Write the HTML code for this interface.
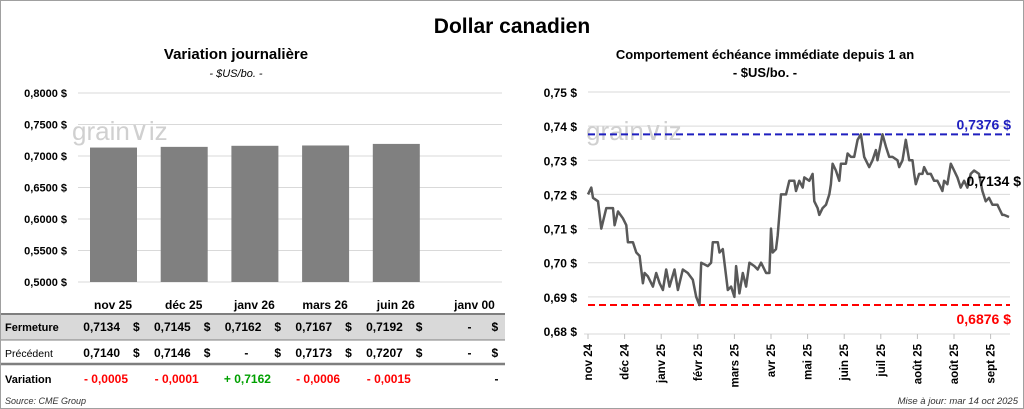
<!DOCTYPE html>
<html><head><meta charset="utf-8"><style>
body{margin:0;background:#fff}
svg{display:block;font-family:"Liberation Sans",sans-serif}
</style></head><body>
<svg id="s" width="1024" height="409" viewBox="0 0 1024 409" xmlns="http://www.w3.org/2000/svg">
<rect x="0.5" y="0.5" width="1023" height="408" fill="#fff" stroke="#a0a0a0"/>
<text x="512" y="33" text-anchor="middle" font-size="21" font-weight="bold">Dollar canadien</text>
<text x="236" y="59" text-anchor="middle" font-size="15" font-weight="bold">Variation  journalière</text>
<text x="236" y="77" text-anchor="middle" font-size="11" font-style="italic">- $US/bo. -</text>
<text x="765" y="59" text-anchor="middle" font-size="13" font-weight="bold">Comportement échéance immédiate depuis 1 an</text>
<text x="765" y="77" text-anchor="middle" font-size="13" font-weight="bold">- $US/bo. -</text>
<g id="left"></g>
<g id="right"></g>
<g id="tbl"></g>
<text x="5" y="404" font-size="9" font-style="italic" fill="#333">Source: CME Group</text>
<text x="1018" y="404" text-anchor="end" font-size="9.5" font-style="italic" fill="#333">Mise à jour: mar 14 oct 2025</text>
</svg>
<script>
const barCats=["nov 25","déc 25","janv 26","mars 26","juin 26","janv 00"];
const barVals=[0.7134,0.7145,0.7162,0.7167,0.7192,null];
const barTicks=[0.50,0.55,0.60,0.65,0.70,0.75,0.80];
const prevVals=["0,7140","0,7146","-","0,7173","0,7207","-"];
const closeVals=["0,7134","0,7145","0,7162","0,7167","0,7192","-"];
const varVals=["- 0,0005","- 0,0001","+ 0,7162","- 0,0006","- 0,0015","-"];
const lineTicks=[0.68,0.69,0.70,0.71,0.72,0.73,0.74,0.75];
const monthLabels=["nov 24","déc 24","janv 25","févr 25","mars 25","avr 25","mai 25","juin 25","juil 25","août 25","août 25","sept 25"];
const lineDays=[0,2,3,6,8,11,15,16,18,21,23,24,27,29,31,33,34,36,39,41,43,45,47,49,52,54,57,60,63,65,67,68,72,74,75,78,79,81,84,86,88,89,91,93,95,97,100,102,104,107,109,110,111,113,114,116,119,121,124,125,127,129,130,133,135,136,138,139,141,143,145,146,147,149,151,152,155,156,158,160,162,164,166,169,171,173,174,176,177,179,181,183,186,187,189,191,193,195,196,197,199,201,202,204,206,208,210,212,213,214,216,218,220,222,224,226,228,230,232,235,237,239,241,243,246,247,249,250,253];
const lineVals=[0.720,0.722,0.719,0.718,0.710,0.716,0.716,0.711,0.715,0.713,0.711,0.706,0.706,0.703,0.702,0.694,0.697,0.696,0.693,0.697,0.694,0.692,0.698,0.693,0.698,0.692,0.698,0.697,0.695,0.690,0.6876,0.700,0.699,0.700,0.706,0.706,0.703,0.704,0.692,0.693,0.690,0.699,0.691,0.697,0.693,0.700,0.699,0.698,0.700,0.697,0.697,0.710,0.703,0.704,0.708,0.720,0.720,0.724,0.724,0.721,0.724,0.722,0.725,0.724,0.726,0.718,0.716,0.714,0.716,0.717,0.720,0.723,0.729,0.727,0.724,0.729,0.729,0.732,0.731,0.731,0.736,0.7376,0.731,0.728,0.730,0.733,0.730,0.735,0.7376,0.734,0.731,0.731,0.730,0.728,0.730,0.736,0.730,0.730,0.726,0.723,0.726,0.726,0.728,0.726,0.726,0.724,0.724,0.722,0.721,0.724,0.723,0.729,0.727,0.725,0.722,0.724,0.722,0.726,0.727,0.726,0.721,0.718,0.719,0.717,0.717,0.716,0.714,0.714,0.7134];
const maxVal=0.7376, minVal=0.6876, lastVal=0.7134;
const NS="http://www.w3.org/2000/svg";
function mk(p,t,a,txt){const e=document.createElementNS(NS,t);for(const k in a)e.setAttribute(k,a[k]);if(txt!=null)e.textContent=txt;p.appendChild(e);return e;}
// left chart
const L=document.getElementById('left');
const ly=v=>282-(v-0.5)/0.3*189;
const lx=i=>78+i*70.7;
barTicks.forEach(t=>{
 const g=mk(L,'line',{x1:78,x2:502,y1:ly(t),y2:ly(t),stroke:'#d9d9d9'});
 
 const tx=mk(L,'text',{x:67,y:ly(t)+4,'text-anchor':'end','font-size':11,'font-weight':'bold'},t.toFixed(4).replace('.',',')+' $');
 
});
const wm=mk(L,'text',{x:72,y:140,'font-size':26,fill:'#d0d0d0'},'grain\u2228iz');

barVals.forEach((v,i)=>{
 if(v==null)return;
 const r=mk(L,'rect',{x:lx(i)+12,y:ly(v),width:47,height:282-ly(v),fill:'#808080'});
 
});
// table
const T=document.getElementById('tbl');
mk(T,'rect',{x:1,y:313,width:504,height:27,fill:'#d9d9d9'});
mk(T,'line',{x1:1,x2:505,y1:314,y2:314,stroke:'#7f7f7f','stroke-width':2});
mk(T,'line',{x1:1,x2:505,y1:340,y2:340,stroke:'#7f7f7f','stroke-width':1});
mk(T,'line',{x1:1,x2:505,y1:364,y2:364,stroke:'#7f7f7f','stroke-width':2.5});
[['Fermeture',331,true],['Précédent',357,false],['Variation',383,true]].forEach(([l,y,b])=>{
 const t=mk(T,'text',{x:5,y:y,'font-size':b?11:10.5,'font-weight':b?'bold':'normal'},l);
 
});
barCats.forEach((c,i)=>{
 const cx=lx(i)+35;
 const h=mk(T,'text',{x:cx+(i==5?8:0),y:309,'text-anchor':'middle','font-size':12,'font-weight':'bold'},c);
 
 const dx=lx(i)+55+(i==5?5:0);
 const a=mk(T,'text',{x:lx(i)+(i==5?40:42),y:331,'text-anchor':'end','font-size':12,'font-weight':'bold'},closeVals[i]);
 
 mk(T,'text',{x:dx,y:331,'font-size':12,'font-weight':'bold'},'$');
 const p=mk(T,'text',{x:lx(i)+(i==5?40:(prevVals[i]=='-'?29:42)),y:357,'text-anchor':'end','font-size':12,'font-weight':'bold'},prevVals[i]);
 
 mk(T,'text',{x:dx,y:357,'font-size':12,'font-weight':'bold'},'$');
 const col=varVals[i][0]=='+'?'#00a000':(varVals[i]=='-'?'#000':'#ff0000');
 const v=mk(T,'text',{x:lx(i)+(i==5?67:28),y:383,'text-anchor':i==5?'end':'middle','font-size':12,'font-weight':'bold',fill:col},varVals[i]);
 
});
// right chart
const R=document.getElementById('right');
const ry=v=>92+(0.75-v)/0.07*239;
const rx=d=>588+d/253*421;
lineTicks.forEach(t=>{
 if(t>0.68){const g=mk(R,'line',{x1:588,x2:1010,y1:ry(t),y2:ry(t),stroke:'#d9d9d9'});
 }
 const tx=mk(R,'text',{x:577,y:ry(t)+5,'text-anchor':'end','font-size':12,'font-weight':'bold'},t.toFixed(2).replace('.',',')+' $');
 
});
const wm2=mk(R,'text',{x:586,y:140,'font-size':26,fill:'#d0d0d0'},'grain\u2228iz');

mk(R,'line',{x1:584,x2:1010,y1:334,y2:334,stroke:'#d9d9d9'});
monthLabels.forEach((m,i)=>{
 const x=588+i*36.6;
 mk(R,'line',{x1:x,x2:x,y1:334,y2:339,stroke:'#bfbfbf'});
 const t=mk(R,'text',{x:0,y:0,'text-anchor':'end','font-size':11.5,'font-weight':'bold',transform:`translate(${x+4},344) rotate(-90)`},m);
 
});
const mx=mk(R,'line',{x1:588,x2:1010,y1:ry(maxVal),y2:ry(maxVal),stroke:'#1f1fbf','stroke-width':2,'stroke-dasharray':'7,4'});

const mn=mk(R,'line',{x1:588,x2:1010,y1:ry(minVal),y2:ry(minVal),stroke:'#ff0000','stroke-width':2,'stroke-dasharray':'7,4'});

const ml=mk(R,'text',{x:1011,y:ry(maxVal)-5,'text-anchor':'end','font-size':14,'font-weight':'bold',fill:'#1f1fbf'},maxVal.toFixed(4).replace('.',',')+' $');

const nl=mk(R,'text',{x:1011,y:ry(minVal)+19,'text-anchor':'end','font-size':14,'font-weight':'bold',fill:'#ff0000'},minVal.toFixed(4).replace('.',',')+' $');

let d='';lineDays.forEach((t,i)=>{d+=(i?'L':'M')+rx(t).toFixed(1)+','+ry(lineVals[i]).toFixed(1);});
const p=mk(R,'path',{d:d,fill:'none',stroke:'#595959','stroke-width':2.5,'stroke-linejoin':'round'});

const ll=mk(R,'text',{x:1021,y:186,'text-anchor':'end','font-size':14,'font-weight':'bold'},lastVal.toFixed(4).replace('.',',')+' $');

</script>
</body></html>
